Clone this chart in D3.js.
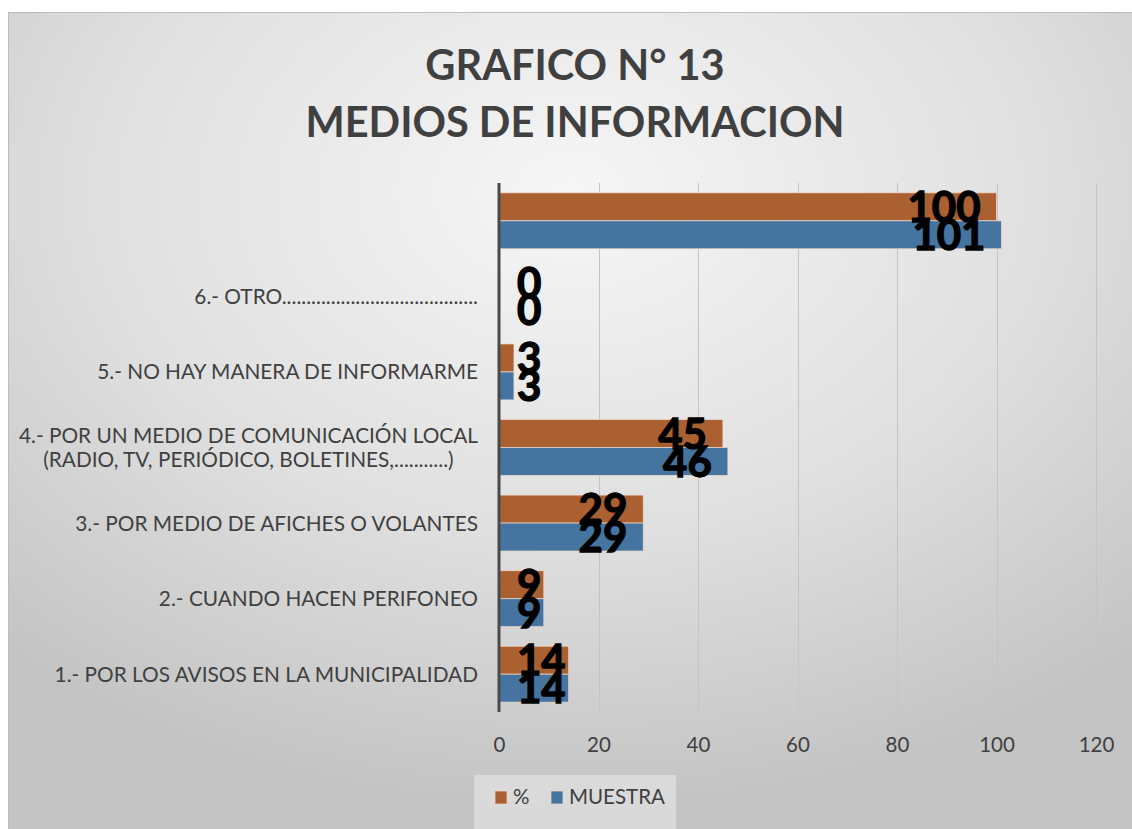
<!DOCTYPE html>
<html>
<head>
<meta charset="utf-8">
<script src="https://cdn.jsdelivr.net/npm/d3@7"></script>
<style>
  html, body { margin: 0; padding: 0; background: #ffffff; }
  svg { display: block; }
</style>
</head>
<body>
<div id="chart"></div>
<script>
// categories, bottom to top as in the picture (the top one has no label)
const categories = [
  '1.- POR LOS AVISOS EN LA MUNICIPALIDAD',
  '2.- CUANDO HACEN PERIFONEO',
  '3.- POR MEDIO DE AFICHES O VOLANTES',
  '4.- POR UN MEDIO DE COMUNICACIÓN LOCAL|(RADIO, TV, PERIÓDICO, BOLETINES,...........)',
  '5.- NO HAY MANERA DE INFORMARME',
  '6.- OTRO........................................',
  ''
];
const seriesNames = ['%', 'MUESTRA'];
const pctValues = [14, 9, 29, 45, 3, 0, 100];
const muestraValues = [14, 9, 29, 46, 3, 0, 101];
const xTicks = [0, 20, 40, 60, 80, 100, 120];
const titleLines = ['GRAFICO N° 13', 'MEDIOS DE INFORMACION'];

const colors = { '%': '#ab6031', 'MUESTRA': '#44749f' };

const width = 1132, height = 829;
const layout = { left: 499, right: 1096, top: 183, bottom: 712 };
const labelFont = 'Lato, "Open Sans", sans-serif';

const svg = d3.select('#chart').append('svg')
  .attr('width', width)
  .attr('height', height);

// background panel with soft radial shading
const defs = svg.append('defs');
const grad = defs.append('radialGradient')
  .attr('id', 'bg')
  .attr('cx', '50%').attr('cy', '22%').attr('r', '75%');
grad.append('stop').attr('offset', '0%').attr('stop-color', '#f6f6f6');
grad.append('stop').attr('offset', '55%').attr('stop-color', '#e0e0e0');
grad.append('stop').attr('offset', '100%').attr('stop-color', '#c4c4c4');

svg.append('rect')
  .attr('x', 8.5).attr('y', 12.5)
  .attr('width', width - 8).attr('height', height - 12)
  .attr('fill', 'url(#bg)')
  .attr('stroke', '#bdbdbd')
  .attr('stroke-width', 1);

// title
svg.append('g').selectAll('text')
  .data(titleLines)
  .join('text')
  .attr('x', 575)
  .attr('y', (d, i) => 80 + i * 57)
  .attr('text-anchor', 'middle')
  .attr('font-family', labelFont)
  .attr('font-weight', 'bold')
  .attr('font-size', 41.5)
  .attr('fill', '#404040')
  .text(d => d);

const rows = categories.map((c, i) => ({
  category: c,
  values: [
    { series: '%', value: pctValues[i] },
    { series: 'MUESTRA', value: muestraValues[i] }
  ]
}));

const x = d3.scaleLinear().domain([0, 120]).range([layout.left, layout.right]);
const y = d3.scaleBand()
  .domain(categories.slice().reverse())
  .range([layout.top, layout.bottom])
  .paddingInner(0.26)
  .paddingOuter(0.13);
const ySub = d3.scaleBand().domain(seriesNames).range([0, y.bandwidth()]);

// vertical gridlines
svg.append('g').selectAll('line')
  .data(xTicks.filter(t => t > 0))
  .join('line')
  .attr('x1', d => Math.round(x(d)) + 0.5)
  .attr('x2', d => Math.round(x(d)) + 0.5)
  .attr('y1', layout.top)
  .attr('y2', layout.bottom)
  .attr('stroke', '#c4c4c4')
  .attr('stroke-width', 1);

// x axis labels
const xAxis = d3.axisBottom(x).tickValues(xTicks).tickSize(0).tickPadding(0);
const gx = svg.append('g')
  .attr('transform', `translate(0,${layout.bottom + 40})`)
  .call(xAxis);
gx.select('.domain').remove();
gx.selectAll('text')
  .attr('dy', null)
  .attr('y', 0)
  .attr('font-family', labelFont)
  .attr('font-size', 20.5)
  .attr('fill', '#404040');

// bars
const groups = svg.append('g').selectAll('g')
  .data(rows)
  .join('g')
  .attr('transform', d => `translate(0,${y(d.category)})`);

groups.selectAll('rect')
  .data(d => d.values)
  .join('rect')
  .attr('x', x(0))
  .attr('y', d => ySub(d.series))
  .attr('width', d => x(d.value) - x(0))
  .attr('height', ySub.bandwidth())
  .attr('fill', d => colors[d.series])
  .attr('stroke', '#f2dccf')
  .attr('stroke-opacity', 0.7)
  .attr('stroke-width', 1);

// value labels
groups.selectAll('text.value')
  .data(d => d.values)
  .join('text')
  .attr('class', 'value')
  .attr('y', d => ySub(d.series) + ySub.bandwidth() / 2)
  .attr('dy', '0.36em')
  .attr('font-family', labelFont)
  .attr('font-weight', 'bold')
  .attr('font-size', 42)
  .attr('fill', '#000000')
  .attr('stroke', '#000000')
  .attr('stroke-width', 1.3)
  .text(d => d.value)
  .each(function (d) {
    const w = this.getComputedTextLength();
    const xpos = Math.max(x(d.value) - 16 - w, x(0) + 18);
    d3.select(this).attr('x', xpos);
  });

// y axis line
svg.append('line')
  .attr('x1', x(0)).attr('x2', x(0))
  .attr('y1', layout.top).attr('y2', layout.bottom)
  .attr('stroke', '#4a4a4a')
  .attr('stroke-width', 3);

// category labels: block right aligned, lines centred on each other
const catLabels = svg.append('g').selectAll('text')
  .data(categories)
  .join('text')
  .attr('y', d => y(d) + y.bandwidth() / 2)
  .attr('text-anchor', 'middle')
  .attr('font-family', labelFont)
  .attr('font-size', 20.8)
  .attr('fill', '#404040');

catLabels.each(function (d) {
  const lines = d.split('|');
  const t = d3.select(this);
  const spans = lines.map((line, i) => t.append('tspan')
    .attr('dy', i === 0 ? `${0.36 - (lines.length - 1) * 0.6}em` : '1.2em')
    .text(line));
  const widest = d3.max(spans, s => s.node().getComputedTextLength());
  spans.forEach(s => s.attr('x', 478 - widest / 2));
});

// legend
const legend = svg.append('g');
legend.append('rect')
  .attr('x', 474).attr('y', 775)
  .attr('width', 202).attr('height', 54)
  .attr('fill', '#e3e3e3')
  .attr('fill-opacity', 0.7);

const legendItems = [
  { name: '%', x: 495 },
  { name: 'MUESTRA', x: 551 }
];
legendItems.forEach(item => {
  legend.append('rect')
    .attr('x', item.x).attr('y', 791)
    .attr('width', 12).attr('height', 13)
    .attr('fill', colors[item.name])
    .attr('stroke', '#f2dccf')
    .attr('stroke-opacity', 0.7);
  legend.append('text')
    .attr('x', item.x + 18)
    .attr('y', 797)
    .attr('dy', '0.36em')
    .attr('font-family', labelFont)
    .attr('font-size', 20.5)
    .attr('fill', '#404040')
    .text(item.name);
});
</script>
</body>
</html>
